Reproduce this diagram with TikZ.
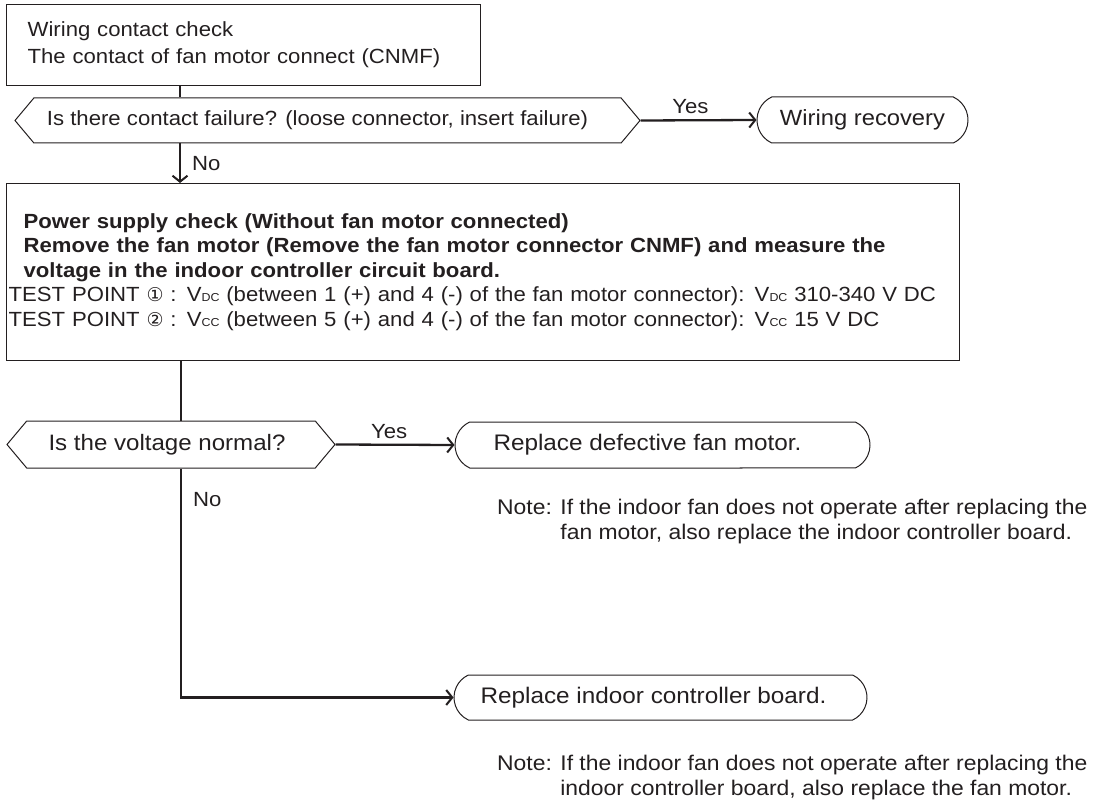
\documentclass[tikz,border=0pt]{standalone}
\usepackage{fontspec}
\setmainfont{Liberation Sans}[FakeStretch=1.08]
\newfontfamily\symfont{DejaVu Sans}
\usetikzlibrary{shapes.symbols,shapes.misc,arrows.meta}
\definecolor{ink}{HTML}{231F20}
\newcommand\smallsub[1]{{\fontsize{11.5}{11.5}\selectfont #1}}
\newcommand\circnum[1]{{\symfont\fontsize{19}{19}\selectfont #1}}
\begin{document}
\begin{tikzpicture}[x=1pt,y=-1pt,
  every node/.style={text=ink, font=\fontsize{20.5}{27}\selectfont},
  box/.style={draw=ink, line width=1.3pt, anchor=north west, align=left, inner sep=0pt},
  dec/.style={draw=ink, line width=1pt, signal, signal to=west and east, signal pointer angle=100, inner sep=0pt},
  term/.style={draw=ink, line width=1pt, rounded rectangle, rounded rectangle arc length=130, inner sep=0pt, minimum height=46},
  conn/.style={draw=ink, line width=2.3pt},
  arr/.style={conn, -{Straight Barb[length=6pt,width=15pt,line width=2pt]}},
  lbl/.style={inner sep=0pt},
  note/.style={anchor=north west, inner sep=0pt, align=left, font=\fontsize{21.2}{24.5}\selectfont}
]
\useasboundingbox (0,0) rectangle (1103,802);
\coordinate (mx) at (180,0);
\coordinate (my) at (181,0);

\node[box, minimum width=474, minimum height=81, text width=432, inner xsep=21pt] (b1) at (6,4)
  {Wiring contact check\\The contact of fan motor connect (CNMF)};

\node[dec, minimum width=625, minimum height=45] (d1) at (327.5,120.5)
  {Is there contact failure? (loose connector, insert failure)\hspace*{20pt}};
\node[term, minimum width=211, font=\fontsize{22}{27}\selectfont] (rec) at (862.5,120) {Wiring recovery};

\node[box, minimum width=953, minimum height=177, text width=949, inner xsep=2pt,
  font=\fontsize{20.5}{24.5}\selectfont] (b2) at (6,183)
  {\hspace*{15pt}\textbf{Power supply check (Without fan motor connected)}\\
   \hspace*{15pt}\textbf{Remove the fan motor (Remove the fan motor connector CNMF) and measure the}\\
   \hspace*{15pt}\textbf{voltage in the indoor controller circuit board.}\\
   \mbox{TEST POINT \circnum{①} : V\smallsub{DC} (between 1 (+) and 4 (-) of the fan motor connector): V\smallsub{DC} 310-340 V DC}\\
   \mbox{TEST POINT \circnum{②} : V\smallsub{CC} (between 5 (+) and 4 (-) of the fan motor connector): V\smallsub{CC} 15 V DC}};

\node[dec, minimum width=328, minimum height=47, font=\fontsize{22.3}{27}\selectfont] (d2) at (171,444.5) {Is the voltage normal?\hspace*{8pt}};
\node[term, minimum width=415, font=\fontsize{22.5}{27}\selectfont] (rep1) at (662.5,445) {Replace defective fan motor.\hspace*{30pt}};
\node[term, minimum width=413, minimum height=45, font=\fontsize{22.5}{27}\selectfont] (rep2) at (660.5,697.5) {Replace indoor controller board.\hspace*{14pt}};

\node[note] (n1) at (497,499)
  {Note: If the indoor fan does not operate after replacing the\\
   \hphantom{Note: }fan motor, also replace the indoor controller board.};
\node[note] (n2) at (497,755)
  {Note: If the indoor fan does not operate after replacing the\\
   \hphantom{Note: }indoor controller board, also replace the fan motor.};

\draw[conn] (b1.south -| mx) -- (d1.north -| mx);
\draw[arr] (d1.south -| mx) -- node[lbl, right=11pt] {No} (b2.north -| mx);
\draw[arr] (d1.east) -- node[lbl, above=5pt, pos=0.43] {Yes} (rec.west);

\draw[conn] (b2.south -| my) -- (d2.north -| my);
\draw[arr] (d2.east) -- node[lbl, above=5pt, pos=0.45] {Yes} (rep1.west);
\draw[arr] (d2.south -| my) |- node[lbl, pos=0.068, right=11pt] {No} (rep2.west);
\end{tikzpicture}
\end{document}
